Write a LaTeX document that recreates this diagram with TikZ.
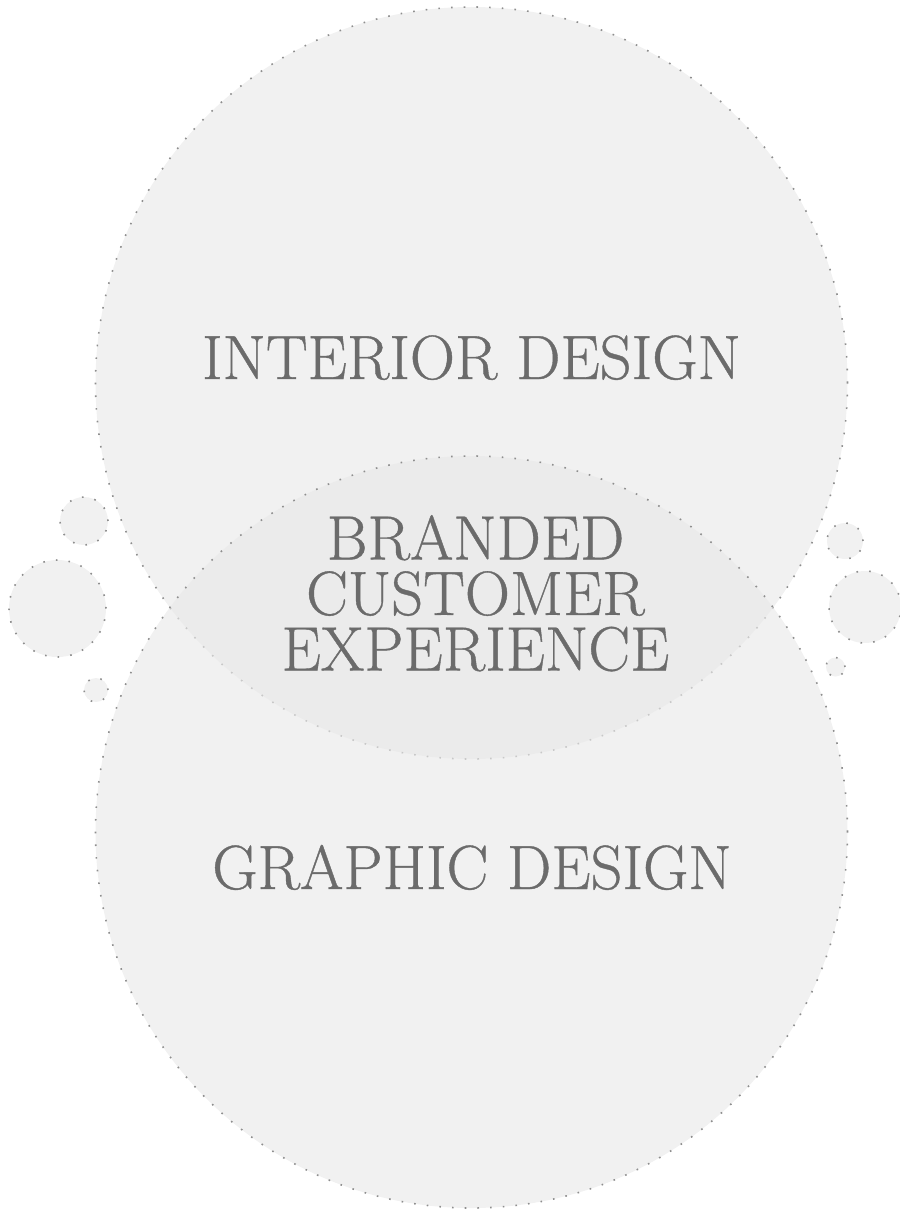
\documentclass[tikz,border=0pt]{standalone}
\usepackage{fontspec}
\setmainfont{Latin Modern Roman}
\begin{document}
\definecolor{discfill}{HTML}{F1F1F1}
\definecolor{discveil}{HTML}{E9E9E9}
\definecolor{dotgray}{HTML}{8E8E8E}
\definecolor{inkgray}{HTML}{6B6B6B}
\begin{tikzpicture}[x=1pt,y=-1pt,
  dotline/.style={draw=dotgray,line width=1.6pt,dash pattern=on 1.6pt off 11.1pt},
  bubble/.style={fill=discfill,dotline},
  label/.style={text=inkgray,inner sep=0pt,align=center,
    font=\fontsize{62.5}{55.5}\selectfont\addfontfeature{FakeBold=0.6}}]
  \useasboundingbox (0,0) rectangle (899,1209);
  % upper disc
  \fill[discfill] (471.5,383) circle[radius=376pt];
  \draw[dotline] (471.5,383) circle[radius=376pt];
  % lower disc, translucent so the overlap reads darker
  \fill[discveil,opacity=0.64] (471.5,832) circle[radius=376pt];
  \draw[dotline] (471.5,832) circle[radius=376pt];
  % small bubbles, left
  \path[bubble] (84,521) circle[radius=24pt];
  \path[bubble] (57.5,608.5) circle[radius=48.5pt];
  \path[bubble] (96,690) circle[radius=12pt];
  % small bubbles, right
  \path[bubble] (845,541) circle[radius=18pt];
  \path[bubble] (865,607) circle[radius=36pt];
  \path[bubble] (835.5,667) circle[radius=9.5pt];
  % labels
  \node[label,anchor=base] (interior) at (471.5,379) {INTERIOR DESIGN};
  \node[label,anchor=north] (overlap) at (475.5,515) {BRANDED\\CUSTOMER\\EXPERIENCE};
  \node[label,anchor=base] (graphic) at (472,889) {GRAPHIC DESIGN};
\end{tikzpicture}
\end{document}
